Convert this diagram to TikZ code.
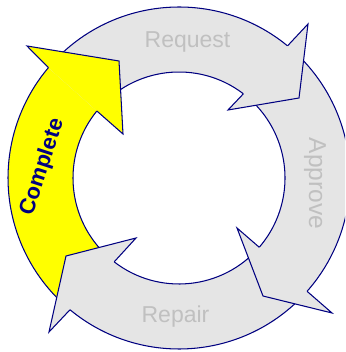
\documentclass[tikz,border=0pt]{standalone}
\usepackage{fontspec}
\setmainfont{Liberation Sans}
\usetikzlibrary{calc}
\definecolor{ringline}{RGB}{0,0,128}
\definecolor{ringgray}{RGB}{229,229,229}
\definecolor{labelgray}{RGB}{192,192,192}
\definecolor{hiyellow}{RGB}{255,255,0}
\begin{document}
\begin{tikzpicture}[x=1pt,y=1pt,
  edge/.style={draw=ringline, line width=1.05pt, line join=miter},
  graylabel/.style={text=labelgray, inner sep=0pt, font=\fontsize{23}{23}\selectfont},
  hilabel/.style={text=ringline, inner sep=0pt, font=\fontsize{22}{22}\selectfont\bfseries}]
\clip (0,0) rectangle (345,352);
\coordinate (c) at (179,174);
\def\Ro{171}\def\Ri{106}

% back-line notches of the four arrows (outer / inner)
\coordinate (rqO) at ($(c)+(50.6:\Ro)$);   \coordinate (rqI) at ($(c)+(52.6:\Ri)$);
\coordinate (apO) at ($(c)+(-41.5:\Ro)$);  \coordinate (apI) at ($(c)+(-40.8:\Ri)$);
\coordinate (rpO) at ($(c)+(-129.6:\Ro)$); \coordinate (rpI) at ($(c)+(-127.7:\Ri)$);
\coordinate (cpO) at ($(c)+(139.8:\Ro)$);  \coordinate (cpI) at ($(c)+(140.8:\Ri)$);

% arrowhead barbs and tips
\coordinate (rqBo) at (308,328); \coordinate (rqT) at (299,254); \coordinate (rqBi) at (228,242);
\coordinate (apBo) at (332,39);  \coordinate (apT) at (263,56);  \coordinate (apBi) at (237,124);
\coordinate (rpBo) at (49,20);   \coordinate (rpT) at (66,96);   \coordinate (rpBi) at (136,114);
\coordinate (cpBo) at (27,306);  \coordinate (cpT) at (119,291); \coordinate (cpBi) at (123,218);

% ---- ring bodies (fill runs a little past each back line, under the head)
\fill[hiyellow] (rpO) arc[start angle=230.4, end angle=137.8, radius=\Ro]
  -- ($(c)+(138.8:\Ri)$) arc[start angle=138.8, end angle=232.3, radius=\Ri] -- cycle;
\fill[ringgray] (cpO) arc[start angle=139.8, end angle=48.6, radius=\Ro]
  -- ($(c)+(50.6:\Ri)$) arc[start angle=50.6, end angle=140.8, radius=\Ri] -- cycle;
\fill[ringgray] (rqO) arc[start angle=50.6, end angle=-43.5, radius=\Ro]
  -- ($(c)+(-42.8:\Ri)$) arc[start angle=-42.8, end angle=52.6, radius=\Ri] -- cycle;
\fill[ringgray] (apO) arc[start angle=-41.5, end angle=-131.6, radius=\Ro]
  -- ($(c)+(-129.7:\Ri)$) arc[start angle=-129.7, end angle=-40.8, radius=\Ri] -- cycle;

% ---- ring edges
\draw[edge] (rpO) arc[start angle=230.4, end angle=139.8, radius=\Ro];
\draw[edge] (cpI) arc[start angle=140.8, end angle=232.3, radius=\Ri];
\draw[edge] (cpO) arc[start angle=139.8, end angle=50.6, radius=\Ro];
\draw[edge] (rqI) arc[start angle=52.6, end angle=140.8, radius=\Ri];
\draw[edge] (rqO) arc[start angle=50.6, end angle=-41.5, radius=\Ro];
\draw[edge] (apI) arc[start angle=-40.8, end angle=52.6, radius=\Ri];
\draw[edge] (apO) arc[start angle=-41.5, end angle=-129.6, radius=\Ro];
\draw[edge] (rpI) arc[start angle=-127.7, end angle=-40.8, radius=\Ri];

% ---- arrowheads, on top of the following tails
\fill[ringgray] (rqO) -- (rqBo) -- (rqT) -- (rqBi) -- (rqI) -- cycle;
\draw[edge] (rqO) -- (rqBo) -- (rqT) -- (rqBi) -- (rqI);
\fill[ringgray] (apO) -- (apBo) -- (apT) -- (apBi) -- (apI) -- cycle;
\draw[edge] (apO) -- (apBo) -- (apT) -- (apBi) -- (apI);
\fill[ringgray] (rpO) -- (rpBo) -- (rpT) -- (rpBi) -- (rpI) -- cycle;
\draw[edge] (rpO) -- (rpBo) -- (rpT) -- (rpBi) -- (rpI);
\fill[hiyellow] (cpO) -- (cpBo) -- (cpT) -- (cpBi) -- (cpI) -- cycle;
\draw[edge] (cpO) -- (cpBo) -- (cpT) -- (cpBi) -- (cpI);

% ---- labels
\node[graylabel, anchor=base] (lblRequest) at (187.5,304.7) {Request};
\node[graylabel, anchor=base, rotate=-90, font=\fontsize{24.5}{24.5}\selectfont] (lblApprove) at (309,168.5) {Approve};
\node[graylabel, anchor=base] (lblRepair) at (175.5,29) {Repair};
\node[hilabel, rotate=72] (lblComplete) at (42.5,185) {Complete};
\end{tikzpicture}
\end{document}
